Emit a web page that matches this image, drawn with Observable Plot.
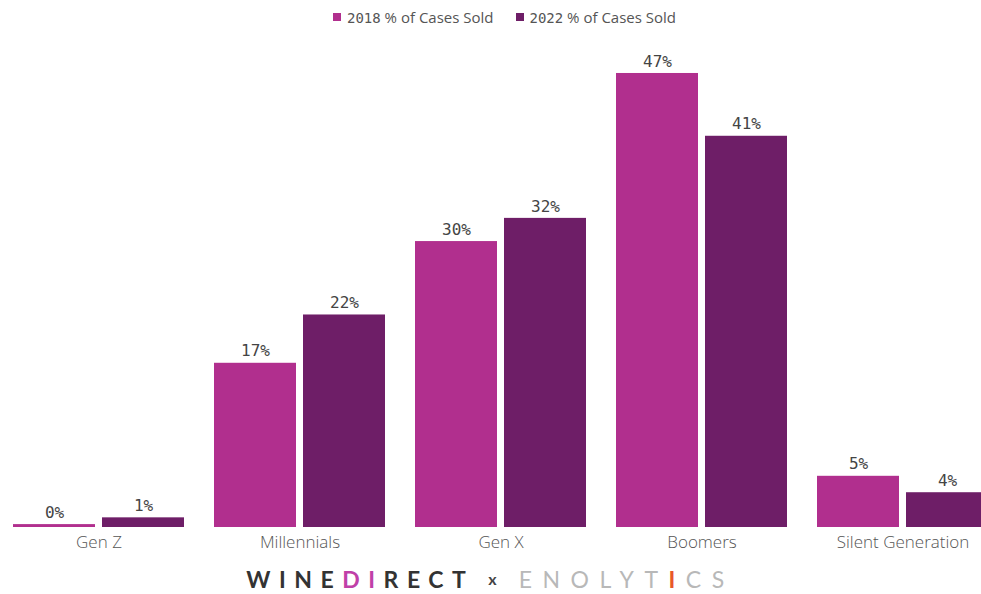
<!DOCTYPE html>
<html>
<head>
<meta charset="utf-8">
<script src="https://cdn.jsdelivr.net/npm/d3@7"></script>
<script src="https://cdn.jsdelivr.net/npm/@observablehq/plot@0.6"></script>
<style>
  html, body { margin: 0; padding: 0; background: #fff; overflow: hidden; width: 981px; height: 594px; }
  #legend { height: 34px; display: flex; justify-content: center; align-items: center; gap: 22px; font-family: "Open Sans", sans-serif; font-size: 15px; color: #555; padding-left: 28px; box-sizing: border-box; }
  #legend .item { display: flex; align-items: center; gap: 6px; }
  #legend .sw { width: 8px; height: 8px; display: inline-block; }
  #legend .num { font-family: "DejaVu Sans Mono", monospace; font-size: 14px; }
  #chart svg { display: block; overflow: visible; }
  #logo { height: 34px; padding-top: 4px; line-height: 26px; display: flex; justify-content: center; align-items: center; font-family: "Lato", sans-serif; font-size: 23px; box-sizing: border-box; }
  #logo .wd { color: #333; font-weight: bold; letter-spacing: 8.5px; }
  #logo .dh { color: #c040a8; }
  #logo .x { color: #444; font-size: 16px; font-weight: bold; margin: 0 22px 0 14px; letter-spacing: 0; }
  #logo .en { color: #b8b8b8; font-weight: normal; font-family: "Lato", sans-serif; letter-spacing: 10.5px; }
  #logo .bottle { color: #e8582a; font-weight: bold; }
</style>
</head>
<body>
<div id="legend"></div>
<div id="chart"></div>
<div id="logo"><span class="wd">WINE<span class="dh">DI</span>RECT</span><span class="x">x</span><span class="en">ENOLYT<span class="bottle">I</span>CS</span></div>
<script>
const generations = ["Gen Z", "Millennials", "Gen X", "Boomers", "Silent Generation"];
const years = ["2018 % of Cases Sold", "2022 % of Cases Sold"];
const values2018 = [0.3, 17, 29.6, 47, 5.3];
const values2022 = [1, 22, 32, 40.5, 3.6];
const colors = ["#b12f8e", "#6e1e67"];

const data = [];
generations.forEach((g, i) => {
  data.push({gen: g, year: years[0], value: values2018[i]});
  data.push({gen: g, year: years[1], value: values2022[i]});
});

// legend
const legend = document.getElementById("legend");
years.forEach((y, i) => {
  const item = document.createElement("span");
  item.className = "item";
  const [num, ...rest] = y.split(" ");
  item.innerHTML = `<span class="sw" style="background:${colors[i]}"></span><span><span class="num">${num}</span> ${rest.join(" ")}</span>`;
  legend.appendChild(item);
});

const plot = Plot.plot({
  width: 981,
  height: 526,
  marginTop: 10,
  marginBottom: 33,
  marginLeft: 13,
  marginRight: 0,
  fx: {domain: generations, range: [13, 988], paddingInner: 0.15, paddingOuter: 0, label: null},
  x: {domain: years, paddingInner: 0.08, paddingOuter: 0, axis: null},
  y: {domain: [0, 50], axis: null},
  color: {domain: years, range: colors},
  style: {fontFamily: "Open Sans, sans-serif"},
  marks: [
    Plot.axisFx({anchor: "bottom", tickSize: 0, tickPadding: 8, fontSize: 17, fill: "#555", fontWeight: 300, label: null}),
    Plot.barY(data, {fx: "gen", x: "year", y: "value", fill: "year"}),
    Plot.text(data, {fx: "gen", x: "year", y: "value", text: d => Math.round(d.value) + "%", dy: -12, fontSize: 16, fill: "#444", fontFamily: "DejaVu Sans Mono, monospace"})
  ]
});
document.getElementById("chart").appendChild(plot);
</script>
</body>
</html>
